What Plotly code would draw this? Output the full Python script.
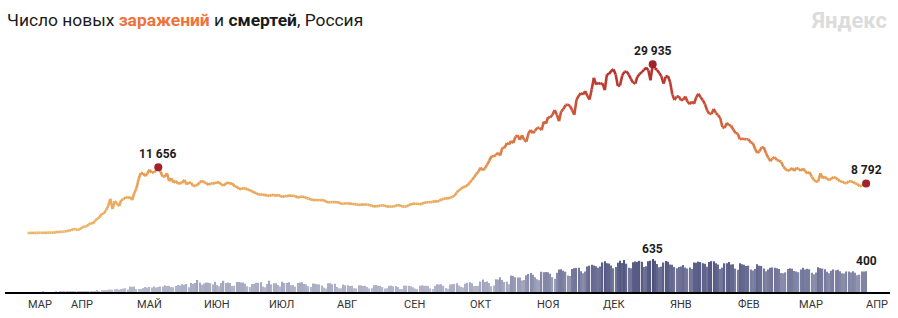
import plotly.graph_objects as go
import pandas as pd
from plotly.colors import sample_colorscale

# ---------------- DATA ----------------
start_date = "2020-03-12"

c_mar20 = [6, 11, 14, 4, 30, 21, 33, 52, 53, 53, 61, 71, 57, 163, 182, 196, 228, 270, 302, 500]
c_apr20 = [440, 771, 601, 582, 658, 954, 1154, 1175, 1459, 1786, 1667, 2186, 2558, 2774, 3388, 3448, 4070, 4785,
           6060, 4268, 5642, 5236, 4774, 5849, 5966, 6361, 6198, 6411, 5841, 7099]
c_may20 = [7933, 9623, 10633, 10581, 10102, 10559, 11231, 10699, 10817, 11012, 11656, 10899, 10028, 9974, 10598,
           9200, 9709, 8926, 9263, 8764, 8849, 8894, 9434, 8599, 8946, 8915, 8338, 8371, 8572, 8952, 9268]
c_jun20 = [9035, 8863, 8536, 8831, 8726, 8855, 8984, 8985, 8595, 8404, 8779, 8987, 8706, 8835, 8246, 8248, 7843,
           7790, 7972, 7889, 7728, 7600, 7425, 7176, 7113, 6800, 6852, 6791, 6719, 6693]
c_jul20 = [6556, 6760, 6718, 6632, 6736, 6611, 6368, 6562, 6509, 6635, 6611, 6615, 6537, 6248, 6422, 6428, 6406,
           6214, 6109, 5940, 5842, 5862, 5848, 5811, 5871, 5765, 5635, 5395, 5475, 5509, 5482]
c_aug20 = [5462, 5427, 5159, 5204, 5267, 5241, 5212, 5189, 5118, 5102, 4945, 5041, 5057, 5065, 5061, 4969, 4839,
           4718, 4748, 4767, 4870, 4921, 4852, 4676, 4696, 4711, 4676, 4829, 4980, 4897, 4729]
c_sep20 = [4670, 4729, 4952, 5110, 5205, 5195, 5185, 5099, 5172, 5363, 5406, 5449, 5488, 5509, 5670, 5529, 5762,
           5905, 6065, 6148, 6196, 6215, 6431, 6595, 7212, 7523, 7867, 8135, 8232, 8481]
c_oct20 = [8945, 9412, 9859, 10499, 10888, 11615, 11115, 11493, 12126, 12846, 13634, 13592, 13868, 14231, 13754,
           15150, 15099, 15982, 15700, 16319, 15971, 17115, 17340, 16521, 17347, 16550, 16202, 17717, 18283, 17717,
           18140]
c_nov20 = [18665, 18648, 18257, 19768, 19404, 20582, 20498, 20977, 21798, 20977, 19851, 21608, 21983, 22702, 22778,
           22572, 21798, 20985, 23610, 24318, 24822, 24581, 25173, 24326, 23675, 25487, 27543, 26338, 26683, 26402]
c_dec20 = [26570, 25345, 28145, 28209, 28782, 29039, 28137, 26097, 26190, 27927, 28585, 28675, 28134, 27328, 26689,
           26509, 27733, 28214, 28552, 28948, 29350, 28900, 27100, 29935, 29258, 28948, 28400, 27787, 26513, 27747,
           27860]
c_jan21 = [26800, 24600, 23600, 24200, 24246, 23541, 23652, 24217, 23309, 22851, 23315, 22934, 24092, 24715, 24092,
           23586, 22857, 21734, 21152, 21127, 22010, 21300, 20921, 20400, 18800, 18630, 19520, 19150, 19032, 18359,
           17750]
c_feb21 = [17648, 16643, 16714, 16688, 16627, 16643, 16048, 15916, 14928, 14207, 14494, 15199, 15220, 14185, 13433,
           12742, 13233, 13447, 12953, 12828, 12604, 11749, 11359, 11022, 11198, 11534, 11024, 11571]
c_mar21 = [11385, 11022, 11440, 11024, 10565, 10816, 10000, 9445, 9079, 9150, 10595, 9700, 10000, 9600, 9400, 9632,
           9908, 9800, 9500, 9200, 9100, 8900, 8800, 9200, 9128, 9073, 8800, 8700, 8300, 8400, 8600]
c_apr21 = [8792]

d_mar20 = [0, 0, 0, 0, 0, 0, 0, 1, 0, 0, 0, 0, 0, 1, 0, 1, 1, 1, 8, 2]
d_apr20 = [2, 8, 2, 4, 2, 2, 11, 5, 13, 13, 12, 12, 24, 18, 22, 28, 36, 41, 48, 44, 51, 57, 42, 60, 66, 72, 47, 108,
           101, 107]
d_may20 = [57, 57, 58, 76, 95, 86, 98, 88, 104, 88, 94, 107, 107, 128, 113, 119, 94, 91, 115, 135, 127, 150, 139, 153,
           92, 174, 161, 174, 232, 181, 138]
d_jun20 = [162, 182, 178, 169, 144, 197, 134, 112, 171, 216, 171, 181, 174, 113, 119, 193, 194, 182, 181, 161, 109, 95,
           153, 154, 176, 176, 188, 104, 93, 154]
d_jul20 = [216, 147, 168, 168, 135, 104, 198, 173, 174, 188, 130, 135, 104, 175, 182, 186, 154, 147, 111, 95, 165, 160,
           147, 146, 124, 85, 66, 167, 169, 150, 161]
d_aug20 = [95, 70, 70, 144, 129, 129, 114, 119, 70, 70, 130, 129, 114, 119, 95, 68, 70, 128, 134, 121, 119, 95, 68, 70,
           122, 123, 111, 117, 94, 59, 57]
d_sep20 = [123, 123, 119, 110, 90, 68, 57, 122, 129, 122, 119, 114, 71, 58, 122, 150, 144, 150, 120, 75, 64, 144, 150,
           154, 169, 124, 99, 88, 160, 177]
d_oct20 = [186, 169, 117, 115, 117, 201, 239, 190, 202, 174, 110, 124, 244, 239, 286, 232, 191, 198, 147, 317, 309, 283,
           279, 278, 219, 229, 320, 346, 366, 334, 283]
d_nov20 = [247, 228, 389, 379, 386, 378, 349, 286, 256, 368, 432, 439, 411, 391, 316, 309, 442, 456, 463, 467, 401, 361,
           393, 491, 507, 524, 510, 496, 466, 490]
d_dec20 = [569, 589, 555, 547, 510, 456, 479, 561, 600, 559, 613, 544, 465, 457, 573, 585, 580, 599, 584, 481, 497, 589,
           602, 635, 599, 539, 478, 488, 567, 594, 580]
d_jan21 = [530, 522, 482, 457, 482, 489, 517, 470, 453, 469, 442, 566, 561, 584, 575, 553, 541, 485, 579, 594, 590, 554,
           531, 444, 469, 552, 553, 576, 527, 534, 450]
d_feb21 = [430, 551, 536, 526, 500, 506, 432, 412, 441, 536, 506, 502, 452, 398, 433, 465, 472, 466, 457, 440, 364, 359,
           377, 441, 458, 445, 403, 395]
d_mar21 = [381, 435, 464, 432, 445, 437, 372, 339, 374, 476, 458, 451, 439, 389, 359, 410, 434, 420, 430, 397, 361, 355,
           395, 392, 376, 398, 372, 322, 334, 396, 396]
d_apr21 = [400]

month_labels = ["МАР", "АПР", "МАЙ", "ИЮН", "ИЮЛ", "АВГ", "СЕН", "ОКТ", "НОЯ", "ДЕК", "ЯНВ", "ФЕВ", "МАР", "АПР"]

cases = (c_mar20 + c_apr20 + c_may20 + c_jun20 + c_jul20 + c_aug20 + c_sep20 + c_oct20 + c_nov20 + c_dec20
         + c_jan21 + c_feb21 + c_mar21 + c_apr21)
deaths = (d_mar20 + d_apr20 + d_may20 + d_jun20 + d_jul20 + d_aug20 + d_sep20 + d_oct20 + d_nov20 + d_dec20
          + d_jan21 + d_feb21 + d_mar21 + d_apr21)
dates = pd.date_range(start_date, periods=len(cases), freq="D")
assert len(cases) == len(deaths)

# ---------------- LAYOUT CONSTANTS ----------------
W, H = 898, 318
ML, MR, MT, MB = 5, 8, 0, 26
PW, PH = W - ML - MR, H - MT - MB
FONT = "Roboto"

ref_date = pd.Timestamp("2020-05-01")
ref_px = 136.5
px_per_day = 2.178
x_start = ref_date - pd.Timedelta(days=(ref_px - ML) / px_per_day)
x_end = ref_date + pd.Timedelta(days=(W - MR - ref_px) / px_per_day)

case_zero_px = 233.0
case_px_per_unit = 0.005635
y1_range = [-(PH - case_zero_px) / case_px_per_unit, case_zero_px / case_px_per_unit]
death_px_per_unit = 0.052
y2_range = [0, PH / death_px_per_unit]


def px_x(p):
    return (p - ML) / PW


def px_y(p):
    return (PH + MT - p) / PH


line_scale = [[0.0, "#ecb468"], [0.3, "#e9a457"], [0.5, "#df7f45"], [0.72, "#cc5538"], [1.0, "#b02b2c"]]
cmax_cases = max(cases)

fig = go.Figure()

# deaths bars
fig.add_trace(go.Bar(
    x=dates, y=deaths, yaxis="y2",
    width=0.58 * 86400000,
    marker=dict(color=deaths, colorscale=[[0, "#c3c5d6"], [0.45, "#999cb7"], [1, "#4d517c"]],
                cmin=0, cmax=max(deaths), line=dict(width=0)),
    hoverinfo="skip", showlegend=False,
))

# cases line as coloured segments
for i in range(len(cases) - 1):
    t = ((cases[i] + cases[i + 1]) / 2) / cmax_cases
    col = sample_colorscale(line_scale, [min(max(t, 0), 1)])[0]
    fig.add_trace(go.Scatter(
        x=[dates[i], dates[i + 1]], y=[cases[i], cases[i + 1]],
        mode="lines", line=dict(color=col, width=2.6, shape="linear"),
        hoverinfo="skip", showlegend=False,
    ))

# highlighted points
first_wave_n = 150
i1 = max(range(first_wave_n), key=lambda k: cases[k])
i2 = max(range(len(cases)), key=lambda k: cases[k])
i3 = len(cases) - 1
pts = [i1, i2, i3]
fig.add_trace(go.Scatter(
    x=[dates[k] for k in pts], y=[cases[k] for k in pts], mode="markers",
    marker=dict(color="#a1222a", size=8), hoverinfo="skip", showlegend=False,
))


def fmt(v):
    return f"{v:,}".replace(",", " ")


annotations = []
for k in pts:
    annotations.append(dict(x=dates[k], y=cases[k], xref="x", yref="y", text=f"<b>{fmt(cases[k])}</b>",
                            showarrow=False, yanchor="bottom", yshift=4,
                            font=dict(family=FONT, size=12, color="#1c1c1c")))
jd = max(range(len(deaths)), key=lambda k: deaths[k])
for k in [jd, len(deaths) - 1]:
    annotations.append(dict(x=dates[k], y=deaths[k], xref="x", yref="y2", text=f"<b>{fmt(deaths[k])}</b>",
                            showarrow=False, yanchor="bottom", yshift=1,
                            font=dict(family=FONT, size=12, color="#1c1c1c")))

# month labels (left aligned at month start, first one at data start)
month_starts = pd.date_range("2020-03-01", periods=len(month_labels), freq="MS")
for lab, ms in zip(month_labels, month_starts):
    xd = max(ms, dates[0])
    annotations.append(dict(x=xd, y=px_y(304), xref="x", yref="paper", text=lab, showarrow=False,
                            xanchor="left", yanchor="middle", xshift=-2,
                            font=dict(family=FONT, size=11, color="#333333")))

# title
annotations.append(dict(
    x=px_x(5), y=px_y(20), xref="paper", yref="paper", xanchor="left", yanchor="middle", showarrow=False,
    text='Число новых <b><span style="color:#f0713a">заражений</span></b> и <b>смертей</b>, Россия',
    font=dict(family=FONT, size=17.4, color="#1a1a1a"),
))
# watermark
annotations.append(dict(
    x=px_x(889), y=px_y(20), xref="paper", yref="paper", xanchor="right", yanchor="middle", showarrow=False,
    text="<b>Яндекс</b>", font=dict(family=FONT, size=22, color="#dcdcdc"),
))

fig.update_layout(
    width=W, height=H,
    margin=dict(l=ML, r=MR, t=MT, b=MB),
    paper_bgcolor="white", plot_bgcolor="white",
    bargap=0.3,
    xaxis=dict(type="date", range=[x_start, x_end], showgrid=False, zeroline=False, showticklabels=False,
               ticks="", showline=True, linecolor="#000000", linewidth=1.6, fixedrange=True),
    yaxis=dict(range=y1_range, visible=False, fixedrange=True),
    yaxis2=dict(range=y2_range, overlaying="y", visible=False, fixedrange=True),
    annotations=annotations,
    showlegend=False,
)

fig.write_html("out.html")
